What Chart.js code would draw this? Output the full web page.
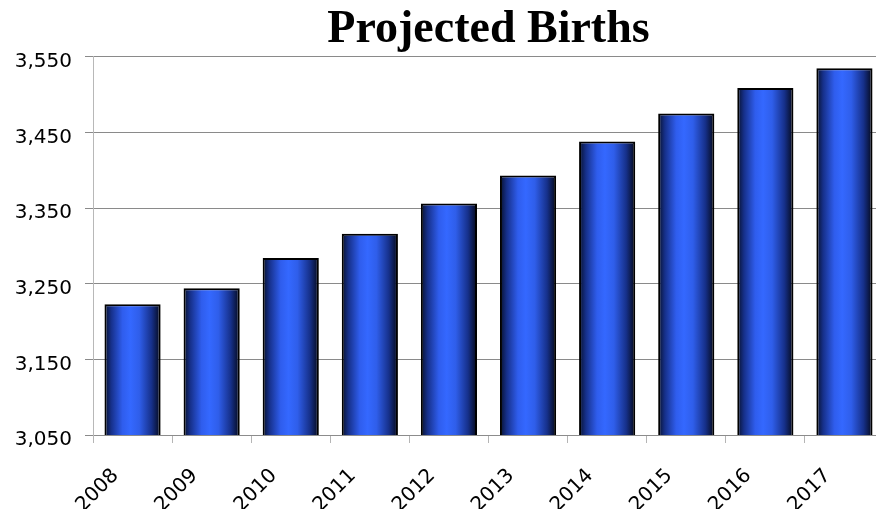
<!DOCTYPE html>
<html>
<head>
<meta charset="utf-8">
<script src="https://cdn.jsdelivr.net/npm/chart.js@4"></script>
<style>
  html, body { margin: 0; padding: 0; background: #fff; overflow: hidden; }
  #wrap { width: 884px; height: 509px; }
</style>
</head>
<body>
<div id="wrap"><canvas id="birthsChart"></canvas></div>
<script>
const years = ["2008", "2009", "2010", "2011", "2012", "2013", "2014", "2015", "2016", "2017"];
const births = [3223, 3244, 3284, 3316, 3356, 3393, 3438, 3475, 3509, 3535];
const yTicks = [3050, 3150, 3250, 3350, 3450, 3550];

const BAR_PCT = 0.71;

// horizontal shading across each bar, dark edges and bright blue middle
function barGradient(context) {
    const chart = context.chart;
    const x = chart.scales.x;
    if (!x || context.type !== 'data' || !x.width) return "#3366ff";
    const cx = x.getPixelForValue(context.dataIndex);
    const half = (x.width / years.length) * BAR_PCT / 2;
    const g = chart.ctx.createLinearGradient(cx - half, 0, cx + half, 0);
    g.addColorStop(0, "#07102a");
    g.addColorStop(0.12, "#16308a");
    g.addColorStop(0.32, "#2f5ded");
    g.addColorStop(0.46, "#3468ff");
    g.addColorStop(0.62, "#2f5eea");
    g.addColorStop(0.84, "#16308a");
    g.addColorStop(1, "#040818");
    return g;
}

new Chart(document.getElementById("birthsChart").getContext("2d"), {
    type: 'bar',
    data: {
        labels: years,
        datasets: [{
            data: births,
            backgroundColor: barGradient,
            borderColor: "#000",
            borderWidth: 2,
            borderSkipped: false,
            barPercentage: BAR_PCT,
            categoryPercentage: 1
        }]
    },
    options: {
        responsive: true,
        maintainAspectRatio: false,
        animation: false,
        layout: { padding: 0 },
        plugins: {
            legend: { display: false },
            tooltip: { enabled: false },
            title: {
                display: true,
                fullSize: false,
                text: "Projected Births",
                color: "#000",
                font: { family: "'Liberation Serif', 'Times New Roman', serif", size: 46, weight: 'bold', lineHeight: 1.15 },
                padding: { top: 4, bottom: 0 }
            }
        },
        scales: {
            x: {
                grid: { offset: true, drawOnChartArea: false, color: "#b5b5b5", tickLength: 8 },
                border: { color: "#8c8c8c", width: 1 },
                ticks: {
                    color: "#000",
                    font: { family: "'DejaVu Sans', sans-serif", size: 20 },
                    maxRotation: 45,
                    minRotation: 45,
                    padding: 21,
                    labelOffset: -17
                },
                afterFit: scale => { scale.height = 74; }
            },
            y: {
                min: yTicks[0],
                max: yTicks[yTicks.length - 1],
                afterBuildTicks: scale => { scale.ticks = yTicks.map(v => ({ value: v })); },
                grid: { color: "#8a8a8a", tickLength: 8 },
                border: { color: "#b8b8b8", width: 1 },
                ticks: {
                    color: "#000",
                    font: { family: "'DejaVu Sans', sans-serif", size: 20 },
                    padding: 13,
                    labelOffset: 5,
                    callback: v => v.toLocaleString('en-US')
                },
                afterFit: scale => { scale.width = 93; }
            }
        }
    }
});
</script>
</body>
</html>
